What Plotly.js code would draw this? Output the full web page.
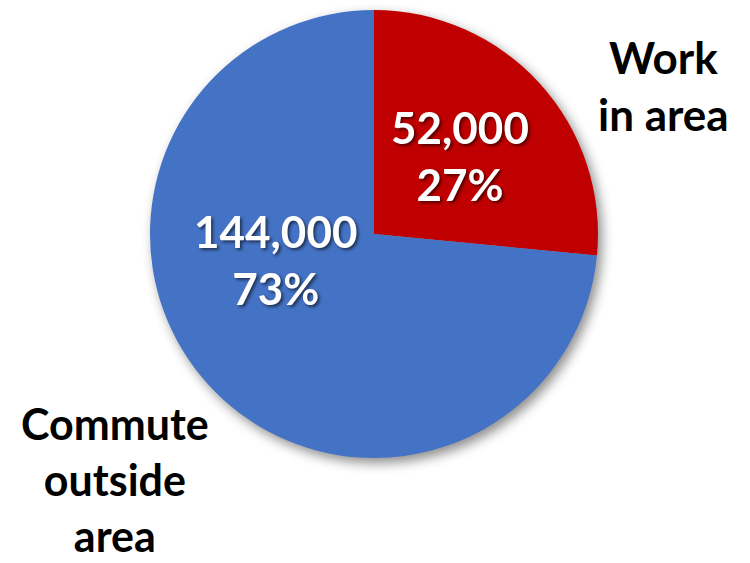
<!DOCTYPE html>
<html>
<head>
<meta charset="utf-8">
<script src="https://cdn.plot.ly/plotly-3.0.1.min.js"></script>
<style>
  html, body { margin: 0; padding: 0; background: #fff; }
  #chart { width: 750px; height: 563px; }
  .pielayer .trace { filter: drop-shadow(4px 5px 6px rgba(0,0,0,0.45)); }
  .shadowtext text { filter: drop-shadow(2px 2px 1.5px rgba(0,0,0,0.55)); }
</style>
</head>
<body>
<div id="chart"></div>
<script>
const categories = ["Work<br>in area", "Commute<br>outside<br>area"];
const values = [52000, 144000];
const percents = ["27%", "73%"];
const colors = ["#C00000", "#4472C4"];

const fontFam = "Lato, 'Open Sans', sans-serif";

const trace = {
  type: "pie",
  labels: categories,
  values: values,
  sort: false,
  direction: "clockwise",
  rotation: 0,
  textinfo: "none",
  hoverinfo: "none",
  marker: { colors: colors, line: { width: 0 } },
  domain: { x: [0.2, 0.7973], y: [0.1865, 0.9822] },
  showlegend: false
};

const fmt = v => v.toLocaleString("en-US");

const annotations = [
  { text: fmt(values[0]) + "<br>" + percents[0], x: 0.6133, y: 0.724,
    font: { family: fontFam, size: 44, color: "#ffffff", weight: 700 } },
  { text: fmt(values[1]) + "<br>" + percents[1], x: 0.3667, y: 0.5382,
    font: { family: fontFam, size: 44, color: "#ffffff", weight: 700 } },
  { text: categories[0], x: 0.885, y: 0.849,
    font: { family: fontFam, size: 44, color: "#000000", weight: 700 } },
  { text: categories[1], x: 0.153, y: 0.0, yanchor: "bottom",
    font: { family: fontFam, size: 43, color: "#000000", weight: 700 } }
].map(a => Object.assign({ xref: "paper", yref: "paper", showarrow: false,
  xanchor: "center", yanchor: "middle", align: "center" }, a));

const layout = {
  width: 750, height: 563,
  margin: { l: 0, r: 0, t: 0, b: 0 },
  paper_bgcolor: "#ffffff",
  plot_bgcolor: "#ffffff",
  annotations: annotations
};

Plotly.newPlot("chart", [trace], layout, { staticPlot: true, displayModeBar: false }).then(gd => {
  const anns = gd.querySelectorAll(".annotation");
  anns.forEach(a => {
    const idx = a.getAttribute("data-index");
    if (idx === "0" || idx === "1") a.classList.add("shadowtext");
  });
});
</script>
</body>
</html>
